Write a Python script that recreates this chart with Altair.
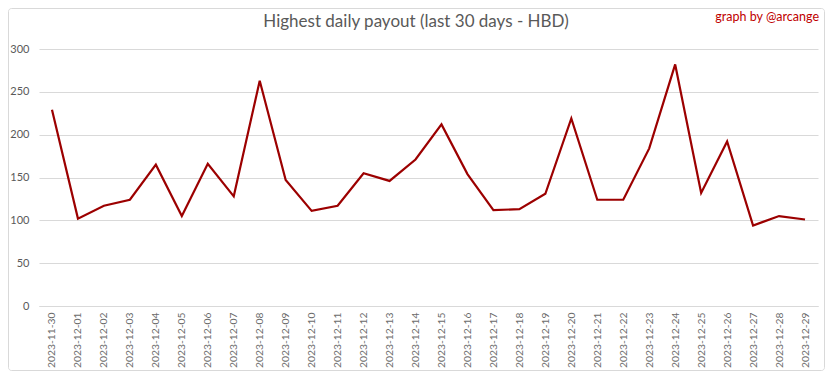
import altair as alt
import pandas as pd

dates = ["2023-11-30", "2023-12-01", "2023-12-02", "2023-12-03", "2023-12-04", "2023-12-05",
         "2023-12-06", "2023-12-07", "2023-12-08", "2023-12-09", "2023-12-10", "2023-12-11",
         "2023-12-12", "2023-12-13", "2023-12-14", "2023-12-15", "2023-12-16", "2023-12-17",
         "2023-12-18", "2023-12-19", "2023-12-20", "2023-12-21", "2023-12-22", "2023-12-23",
         "2023-12-24", "2023-12-25", "2023-12-26", "2023-12-27", "2023-12-28", "2023-12-29"]
payout = [229, 102, 117, 124, 165, 105, 166, 128, 263, 147, 111, 117, 155, 146, 171,
          212, 154, 112, 113, 131, 219, 124, 124, 184, 282, 132, 192, 94, 105, 101]
y_ticks = [0, 50, 100, 150, 200, 250, 300]
title_text = "Highest daily payout (last 30 days - HBD)"
credit_text = "graph by @arcange"

df = pd.DataFrame({"date": dates, "payout": payout})

W, H = 779, 257
FONT = "Lato"

line = alt.Chart(df).mark_line(color="#9c0000", strokeWidth=2.2).encode(
    x=alt.X("date:O", sort=None, title=None,
            scale=alt.Scale(type="point", padding=0.5),
            axis=alt.Axis(labelAngle=270, labelAlign="right", labelBaseline="middle",
                          labelFontSize=10.3, labelColor="#6b6b6b", labelFont=FONT,
                          labelPadding=6, ticks=False, domainColor="#d9d9d9",
                          labelOverlap=False)),
    y=alt.Y("payout:Q", title=None,
            scale=alt.Scale(domain=[0, 300], nice=False),
            axis=alt.Axis(values=y_ticks, domain=False, ticks=False,
                          gridColor="#d9d9d9", labelColor="#595959",
                          labelFontSize=11, labelFont=FONT, labelPadding=10)),
)

one = alt.Data(values=[{}])

border = alt.Chart(one).mark_rect(fill=None, stroke="#d9d9d9", strokeWidth=1,
                                  cornerRadius=3, clip=False).encode(
    x=alt.value(-30.5), x2=alt.value(W + 6.5), y=alt.value(-40.5), y2=alt.value(H + 64.5)
)

title = alt.Chart(one).mark_text(text=title_text, font=FONT, fontSize=17,
                                 color="#595959", align="center", baseline="middle").encode(
    x=alt.value(416 - 39), y=alt.value(22 - 49)
)

credit = alt.Chart(one).mark_text(text=credit_text, font=FONT, fontSize=12.5,
                                  color="#c00000", align="right", baseline="middle").encode(
    x=alt.value(819 - 39), y=alt.value(17 - 49)
)

chart = alt.layer(border, line, title, credit).properties(
    width=W, height=H,
    autosize=alt.AutoSizeParams(type="none"),
    padding={"left": 31, "top": 41, "right": 7, "bottom": 65},
).configure_view(stroke=None)

chart.save("out.html", embed_options={"renderer": "svg", "actions": False})
